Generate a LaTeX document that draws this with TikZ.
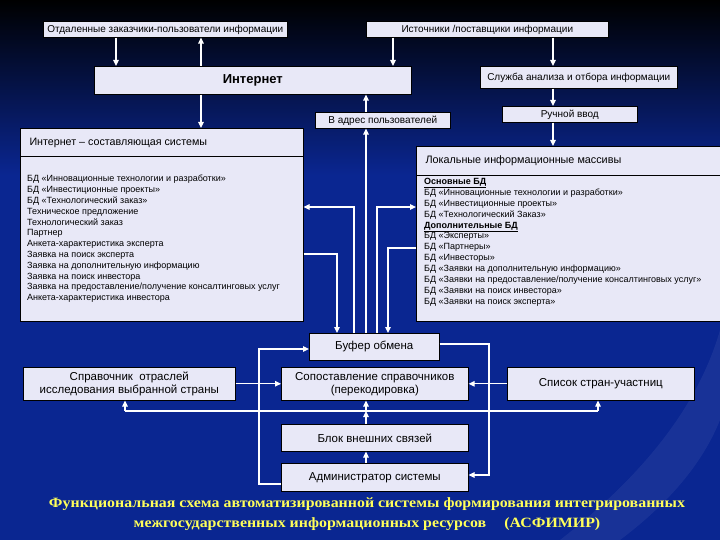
\documentclass[tikz,border=0pt]{standalone}
\usepackage{fontspec}
\setmainfont{Liberation Sans}
\newfontfamily\capfont[FakeStretch=1.12]{Liberation Serif}
\usetikzlibrary{arrows.meta}

\definecolor{bgblue}{RGB}{10,38,145}
\definecolor{boxfill}{RGB}{232,232,247}
\definecolor{capyellow}{RGB}{255,255,90}

\tikzset{
  box/.style={draw=black, fill=boxfill, line width=0.6pt, inner sep=0pt,
              anchor=north west, align=center, text=black},
  smallbox/.style={box, font=\fontsize{10}{11}\selectfont, text height=7.5pt, text depth=1.5pt},
  link/.style={draw=white, line width=1.2pt},
}

\begin{document}
\begin{tikzpicture}[x=1pt,y=-1pt,>={Triangle[length=6pt,width=5.5pt]}]

  % fon
  \useasboundingbox (0,0) rectangle (720,540);
  \fill[bgblue] (0,0) rectangle (720,540);
  \shade[top color=black, bottom color=bgblue] (0,0) rectangle (720,175);
  \fill[white, opacity=0.06] (560,540) .. controls (650,470) and (700,400) .. (720,330)
        -- (720,420) .. controls (700,470) and (660,510) .. (620,540) -- cycle;

  % verkhnyaya chast
  \node[smallbox, minimum width=244pt, minimum height=16pt]
       (cust) at (43,21) {Отдаленные заказчики-пользователи информации};
  \node[smallbox, minimum width=242pt, minimum height=16pt]
       (src) at (366,21) {Источники /поставщики информации};
  \node[box, minimum width=317pt, minimum height=28pt, font=\fontsize{13}{14}\selectfont\bfseries]
       (inet) at (94,66) {Интернет};
  \node[smallbox, minimum width=197pt, minimum height=22pt]
       (serv) at (480,66) {Служба анализа и отбора информации};
  \node[smallbox, minimum width=135pt, minimum height=16pt]
       (manual) at (502,106) {Ручной ввод};
  \node[smallbox, minimum width=135pt, minimum height=16pt]
       (toUsers) at (315,112) {В адрес пользователей};

  % bolshie bloki
  \node[box, minimum width=283pt, minimum height=193pt] (inetPart) at (20,128) {};
  \draw[line width=0.6pt] (inetPart.north west) ++(0,28) coordinate (ipL) -- (ipL -| inetPart.east);
  \node[anchor=west, font=\fontsize{10.7}{12}\selectfont] (inetHead) at (26,143)
       {Интернет – составляющая системы};
  \node[anchor=north west, align=left, inner sep=0pt, font=\fontsize{9}{10.8}\selectfont]
       (inetList) at (27,175) {%
       БД «Инновационные технологии и разработки»\\
       БД «Инвестиционные проекты»\\
       БД «Технологический заказ»\\
       Техническое предложение\\
       Технологический заказ\\
       Партнер\\
       Анкета-характеристика эксперта\\
       Заявка на поиск эксперта\\
       Заявка на дополнительную информацию\\
       Заявка на поиск инвестора\\
       Заявка на предоставление/получение консалтинговых услуг\\
       Анкета-характеристика инвестора};

  \node[box, minimum width=304pt, minimum height=175pt] (local) at (416,146) {};
  \draw[line width=0.6pt] (local.north west) ++(0,29) coordinate (lcL) -- (lcL -| local.east);
  \node[anchor=west, font=\fontsize{10.8}{12}\selectfont] (localHead) at (422,161)
       {Локальные информационные массивы};
  \node[anchor=north west, align=left, inner sep=0pt, font=\fontsize{9}{10.9}\selectfont]
       (localList) at (424,178) {%
       \underline{\textbf{Основные БД}}\\
       БД «Инновационные технологии и разработки»\\
       БД «Инвестиционные проекты»\\
       БД «Технологический Заказ»\\
       \underline{\textbf{Дополнительные БД}}\\
       БД «Эксперты»\\
       БД «Партнеры»\\
       БД «Инвесторы»\\
       БД «Заявки на дополнительную информацию»\\
       БД «Заявки на предоставление/получение консалтинговых услуг»\\
       БД «Заявки на поиск инвестора»\\
       БД «Заявки на поиск эксперта»};

  % nizhnyaya chast
  \node[box, minimum width=130pt, minimum height=27pt, font=\fontsize{11.5}{13}\selectfont]
       (buffer) at (309,333) {Буфер обмена};
  \node[box, minimum width=212pt, minimum height=33pt, font=\fontsize{11.5}{13}\selectfont]
       (refInd) at (23,367) {Справочник \ отраслей\\исследования выбранной страны};
  \node[box, minimum width=187pt, minimum height=33pt, font=\fontsize{11.5}{13}\selectfont]
       (match) at (281,367) {Сопоставление справочников\\(перекодировка)};
  \node[box, minimum width=187pt, minimum height=33pt, font=\fontsize{11.5}{13}\selectfont]
       (countries) at (507,367) {Список стран-участниц};
  \node[box, minimum width=187pt, minimum height=27pt, font=\fontsize{11.5}{13}\selectfont]
       (extLinks) at (281,424) {Блок внешних связей};
  \node[box, minimum width=187pt, minimum height=28pt, font=\fontsize{11.5}{13}\selectfont]
       (admin) at (281,463) {Администратор системы};

  % podpis
  \node[text=capyellow, font=\capfont\bfseries\fontsize{14.2}{20}\selectfont, align=center]
       (caption) at (367,514) {Функциональная схема автоматизированной системы формирования интегрированных\\
       межгосударственных информационных ресурсов \quad(АСФИМИР)};

  % kolonki i stroki dlya strelok
  \coordinate (cA) at (116,0);
  \coordinate (cB) at (201,0);
  \coordinate (cC) at (393,0);
  \coordinate (cD) at (553,0);
  \coordinate (cE) at (366,0);
  \coordinate (cF) at (337,0);
  \coordinate (cG) at (354,0);
  \coordinate (cH) at (377,0);
  \coordinate (cI) at (388,0);
  \coordinate (cJ) at (125,0);
  \coordinate (cK) at (598,0);
  \coordinate (cL) at (259,0);
  \coordinate (cM) at (489,0);
  \coordinate (rA) at (0,207);
  \coordinate (rB) at (0,254);
  \coordinate (rC) at (0,248);
  \coordinate (rD) at (0,411);
  \coordinate (rE) at (0,349);
  \coordinate (rF) at (0,484);
  \coordinate (rG) at (0,344);
  \coordinate (rH) at (0,475);
  \coordinate (bus) at (366,411);

  % strelki sverkhu
  \draw[link, ->] (cust.south -| cA) -- (inet.north -| cA);
  \draw[link, ->] (inet.north -| cB) -- (cust.south -| cB);
  \draw[link, ->] (inet.south -| cB) -- (inetPart.north -| cB);
  \draw[link, ->] (src.south -| cC) -- (inet.north -| cC);
  \draw[link, ->] (src.south -| cD) -- (serv.north -| cD);
  \draw[link, ->] (serv.south -| cD) -- (manual.north -| cD);
  \draw[link, ->] (manual.south -| cD) -- (local.north -| cD);
  \draw[link, ->] (toUsers.north -| cE) -- (inet.south -| cE);
  \draw[link, ->] (buffer.north -| cE) -- (toUsers.south -| cE);

  % bufer obmena
  \draw[link, ->] (buffer.north -| cG) |- (rA -| inetPart.east);
  \draw[link, ->] (rB -| inetPart.east) -| (buffer.north -| cF);
  \draw[link, ->] (buffer.north -| cH) |- (rA -| local.west);
  \draw[link, ->] (rC -| local.west) -| (buffer.north -| cI);

  % nizhnie strelki
  \draw[link, ->] (refInd.east) -- (match.west);
  \draw[link, ->] (countries.west) -- (match.east);
  \draw[link] (rD -| cJ) -- (rD -| cK);
  \draw[link, ->] (rD -| cJ) -- (refInd.south -| cJ);
  \draw[link, ->] (rD -| cK) -- (countries.south -| cK);
  \draw[link, ->] (extLinks.north -| bus) -- (bus);
  \draw[link, ->] (bus) -- (match.south -| bus);
  \draw[link, ->] (admin.north -| bus) -- (extLinks.south -| bus);
  \draw[link, ->] (rF -| admin.west) -| (rE -| cL) -- (rE -| buffer.west);
  \draw[link, ->] (rG -| buffer.east) -| (rH -| cM) -- (rH -| admin.east);

\end{tikzpicture}
\end{document}
